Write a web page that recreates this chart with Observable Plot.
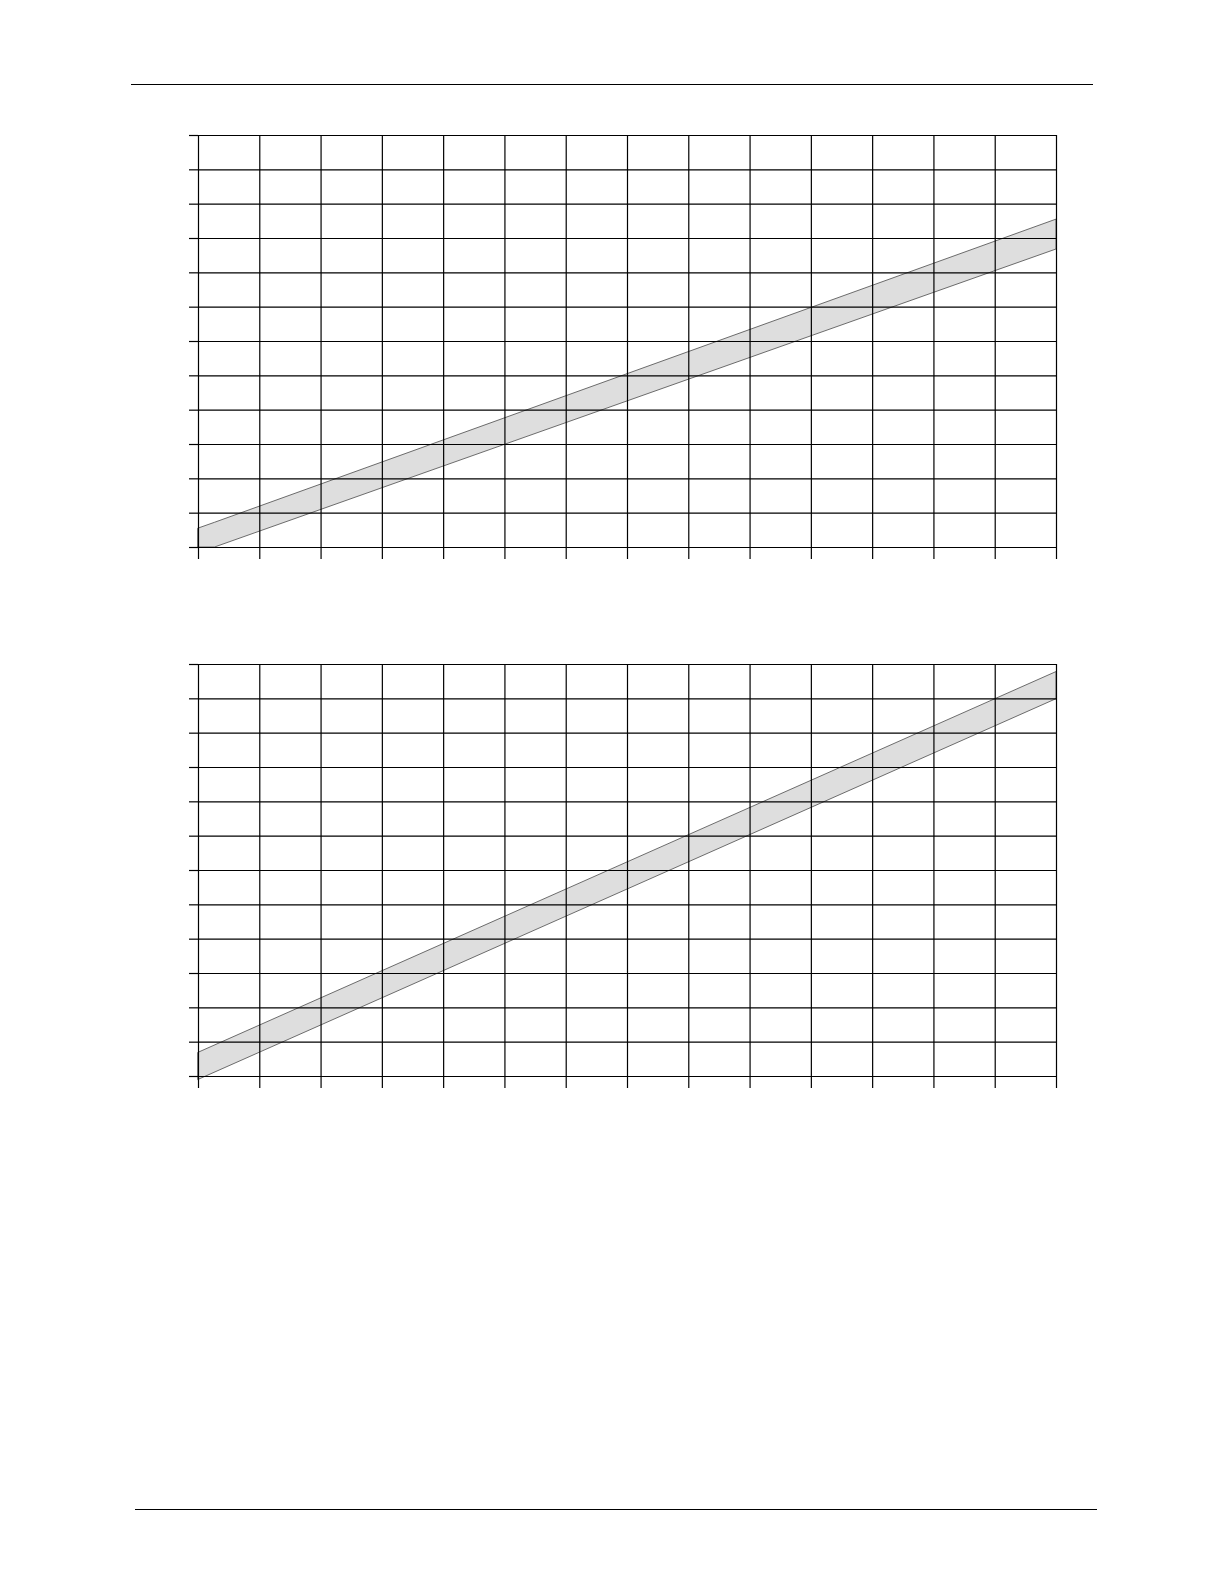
<!DOCTYPE html>
<html>
<head>
<meta charset="utf-8">
<script src="https://cdn.jsdelivr.net/npm/d3@7"></script>
<script src="https://cdn.jsdelivr.net/npm/@observablehq/plot@0.6"></script>
<style>
  html, body { margin: 0; padding: 0; background: white; }
  body { width: 1224px; height: 1584px; position: relative; font-family: "Liberation Sans", Arial, sans-serif; }
  .rule { position: absolute; height: 0; border-top: 1.3px solid #000; }
  .chart { position: absolute; left: 0; }
</style>
</head>
<body>
<div class="rule" style="top:84px; left:131px; width:962px;"></div>
<div class="chart" id="c1" style="top:110px;"></div>
<div class="chart" id="c2" style="top:639px;"></div>
<div class="rule" style="top:1509px; left:135px; width:962px;"></div>
<script>
// grid ticks (no labels shown in the reference)
const xTicks = d3.range(0, 15);   // 14 columns
const yTicks = d3.range(0, 13);   // 12 rows

// Chart 1 band (grid units)
const band1X     = [0, 0.27, 14];
const band1Upper = [0.55, 0.72, 9.55];
const band1Lower = [0, 0, 8.68];

// Chart 2 band
const band2X     = [0, 14];
const band2Upper = [0.69, 11.78];
const band2Lower = [-0.1, 10.99];

function makeChart(xs, upper, lower) {
  const data = xs.map((x, i) => ({x, hi: upper[i], lo: lower[i]}));
  return Plot.plot({
    width: 1224,
    height: 467,
    marginLeft: 198,
    marginRight: 168,
    marginTop: 25,
    marginBottom: 30,
    x: {domain: [0, 14], axis: null},
    y: {domain: [0, 12], axis: null},
    style: {background: "white"},
    marks: [
      Plot.areaY(data, {x: "x", y1: "lo", y2: "hi", fill: "#dedede", stroke: "#4a4a4a", strokeWidth: 0.8}),
      Plot.gridX(xTicks, {stroke: "#000", strokeOpacity: 1, strokeWidth: 1.2}),
      Plot.gridY(yTicks, {stroke: "#000", strokeOpacity: 1, strokeWidth: 1.2}),
      Plot.axisY(yTicks, {anchor: "left", tickSize: 9, fill: "none", label: null, stroke: "#000", strokeWidth: 1.2}),
      Plot.axisX(xTicks, {anchor: "bottom", tickSize: 12, fill: "none", label: null, stroke: "#000", strokeWidth: 1.2})
    ]
  });
}

document.getElementById("c1").appendChild(makeChart(band1X, band1Upper, band1Lower));
document.getElementById("c2").appendChild(makeChart(band2X, band2Upper, band2Lower));
</script>
</body>
</html>
